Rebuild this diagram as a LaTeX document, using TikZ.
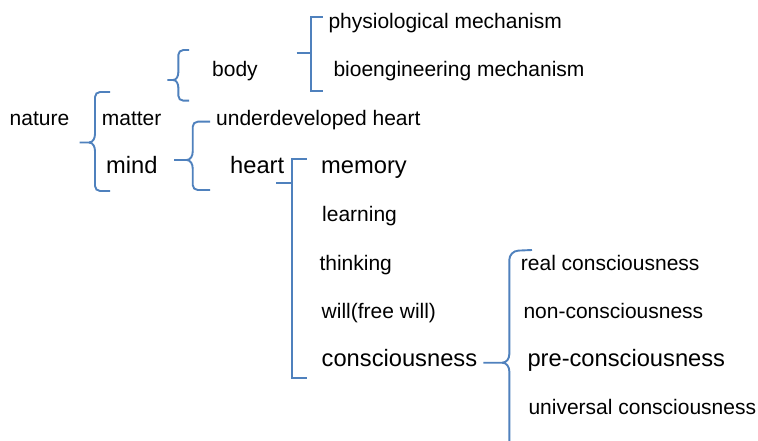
\documentclass[tikz,border=0pt]{standalone}
\usepackage{fontspec}
\setmainfont{Liberation Sans}
\definecolor{brc}{RGB}{79,129,189}
\tikzset{
  br/.style={draw=brc, line width=1.9pt, rounded corners=5pt},
  sq/.style={draw=brc, line width=1.9pt},
  lbl/.style={anchor=base west, inner sep=0pt, font=\fontsize{21}{25}\selectfont},
  big/.style={anchor=base west, inner sep=0pt, font=\fontsize{23.7}{28}\selectfont}
}
\begin{document}
\begin{tikzpicture}[x=1pt,y=-1pt]
\useasboundingbox[fill=white] (0,0) rectangle (758,441);
% texts
\node[lbl] (nature) at (9.5,126) {nature};
\node[lbl] (matter) at (101.7,126) {matter};
\node[big] (mind) at (106,174) {mind};
\node[lbl] (body) at (212,77) {body};
\node[lbl] (phys) at (328.3,29) {physiological mechanism};
\node[lbl] (bioe) at (333.3,77) {bioengineering mechanism};
\node[lbl] (under) at (216,126) {underdeveloped heart};
\node[big] (heart) at (230,174) {heart};
\node[big] (memory) at (321,174) {memory};
\node[lbl] (learning) at (322,222) {learning};
\node[lbl] (thinking) at (319.3,270) {thinking};
\node[lbl] (will) at (321.5,318) {will(free will)};
\node[big] (consc) at (321.5,366) {consciousness};
\node[lbl] (real) at (520.7,270) {real consciousness};
\node[lbl] (non) at (523.3,318) {non-consciousness};
\node[big] (pre) at (527.3,366) {pre-consciousness};
\node[lbl] (univ) at (528.3,414) {universal consciousness};
% curly braces
% nature
\draw[br] (110,92) -- (95,92) -- (95,134.5);
\draw[sq] (95,134) to[out=-90,in=0] (89,142.5) -- (79.5,142.5);
\draw[sq] (89,142.5) to[out=0,in=90] (95,151);
\draw[br] (95,150.5) -- (95,191) -- (110,191);
% mind
\draw[br] (210,121.7) -- (192.7,121.7) -- (192.7,152.2);
\draw[sq] (192.7,151.7) to[out=-90,in=0] (186.7,160) -- (174,160);
\draw[sq] (186.7,160) to[out=0,in=90] (192.7,168.3);
\draw[br] (192.7,167.8) -- (192.7,190) -- (210,190);
% body
\draw[br] (189,50) -- (178.3,50) -- (178.3,73);
\draw[sq] (178.3,72.5) to[out=-90,in=0] (173,80) -- (167.3,80);
\draw[sq] (173,80) to[out=0,in=90] (178.3,87.5);
\draw[br] (178.3,87) -- (178.3,100.7) -- (189,100.7);
% consciousness
\draw[br,rounded corners=9pt] (532,250) -- (509.3,251) -- (509.3,354.7);
\draw[sq] (509.3,354.2) to[out=-90,in=0] (502.3,362.7) -- (483.3,362.7);
\draw[sq] (502.3,362.7) to[out=0,in=90] (509.3,371.2) -- (509.3,442);
% square brackets
\draw[sq] (322.7,16.7) -- (310.7,16.7) -- (310.7,90.7) -- (322.7,90.7);
\draw[sq] (296.7,53.3) -- (310.7,53.3);
\draw[sq] (306.5,159.3) -- (292.3,159.3) -- (292.3,378.3) -- (306.5,378.3);
\draw[sq] (276,183.3) -- (292.3,183.3);
\end{tikzpicture}
\end{document}
